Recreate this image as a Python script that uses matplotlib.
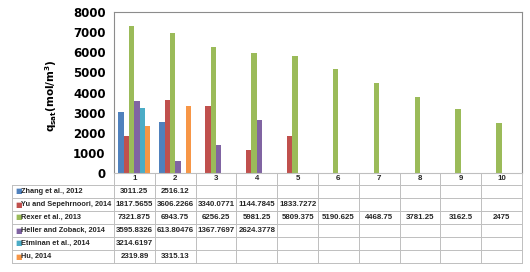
import matplotlib
matplotlib.use("Agg")
import matplotlib.pyplot as plt
import matplotlib.transforms as mtransforms
import numpy as np

nan = np.nan
categories = [1, 2, 3, 4, 5, 6, 7, 8, 9, 10]
series_names = ["Zhang et al., 2012", "Yu and Sepehrnoori, 2014", "Rexer et al., 2013",
                "Heller and Zoback, 2014", "Etminan et al., 2014", "Hu, 2014"]
zhang = [3011.25, 2516.12, nan, nan, nan, nan, nan, nan, nan, nan]
yu = [1817.5655, 3606.2266, 3340.0771, 1144.7845, 1833.7272, nan, nan, nan, nan, nan]
rexer = [7321.875, 6943.75, 6256.25, 5981.25, 5809.375, 5190.625, 4468.75, 3781.25, 3162.5, 2475]
heller = [3595.8326, 613.80476, 1367.7697, 2624.3778, nan, nan, nan, nan, nan, nan]
etminan = [3214.6197, nan, nan, nan, nan, nan, nan, nan, nan, nan]
hu = [2319.89, 3315.13, nan, nan, nan, nan, nan, nan, nan, nan]
colors = ["#4F81BD", "#C0504D", "#9BBB59", "#8064A2", "#4BACC6", "#F79646"]

all_series = [zhang, yu, rexer, heller, etminan, hu]

W, H = 530, 272
fig = plt.figure(figsize=(W / 100, H / 100), dpi=100)
ax = fig.add_axes([114 / W, 1 - 173 / H, 408 / W, 161 / H])

x = np.array(categories, dtype=float)
bw = 0.13
for j, (vals, c) in enumerate(zip(all_series, colors)):
    ax.bar(x + (j - 2.5) * bw, vals, width=bw, color=c, linewidth=0)

ax.set_xlim(0.5, 10.5)
ax.set_ylim(0, 8000)
ax.set_yticks(range(0, 8001, 1000))
ax.set_xticks([])
ax.tick_params(axis="y", length=0, pad=6, labelsize=8.5)
for lbl in ax.get_yticklabels():
    lbl.set_fontweight("bold")
for s in ax.spines.values():
    s.set_color("#8C8C8C")
    s.set_linewidth(0.8)
ax.spines["bottom"].set_color("#BFBFBF")

fig.text(51 / W, 1 - 96 / H, r"$\mathbf{q_{sat}(mol/m^3)}$", rotation=90,
         ha="center", va="center", fontsize=7.5)

# data table under the axes (columns line up with the categories)
tr = mtransforms.blended_transform_factory(ax.transData, fig.transFigure)
def fy(px):
    return 1 - px / H

row_edges = [173, 185, 198, 211, 224, 237, 250, 263]
grid = "#BFBFBF"
xl = -2.0
for px in row_edges[1:]:
    ax.plot([xl, 10.5], [fy(px)] * 2, transform=tr, color=grid, lw=0.7, clip_on=False)
for b in np.arange(0.5, 11.0, 1.0):
    ax.plot([b, b], [fy(173), fy(263)], transform=tr, color=grid, lw=0.7, clip_on=False)
ax.plot([xl, xl], [fy(185), fy(263)], transform=tr, color=grid, lw=0.7, clip_on=False)

font = dict(family="Liberation Sans", fontweight="bold", fontsize=5.7, color="#262626")
name_font = dict(font, fontsize=5.3)
for c in categories:
    ax.text(c, fy(179), str(c), transform=tr, ha="center", va="center", **font)

for i, (name, vals, col) in enumerate(zip(series_names, all_series, colors)):
    yc = fy((row_edges[i + 1] + row_edges[i + 2]) / 2)
    ax.text(xl + 0.08, yc, "\u25A0", transform=tr, ha="left", va="center",
            color=col, fontsize=5, family="DejaVu Sans")
    ax.text(xl + 0.21, yc, name, transform=tr, ha="left", va="center", **name_font)
    for c, v in zip(categories, vals):
        if not np.isnan(v):
            ax.text(c, yc, f"{v:.10g}", transform=tr, ha="center", va="center", **font)

fig.savefig("out.png", dpi=100)
